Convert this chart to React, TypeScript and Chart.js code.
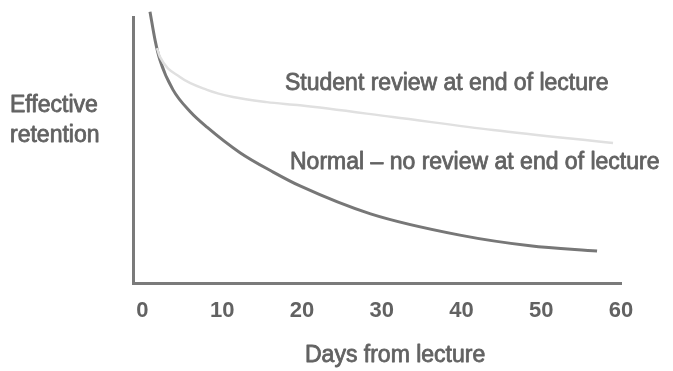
import { useEffect, useRef } from "react";
import { Chart, registerables } from "chart.js";

Chart.register(...registerables);

const xTicks = [0, 10, 20, 30, 40, 50, 60];

const normalDays = [0.95, 1.58, 2.2, 3.84, 5.97, 8.1, 12.24, 16.4, 19.76, 28.6, 39.8, 48.6, 57.0];
const normalValues = [102, 91.4, 83.8, 72.6, 64.5, 58.6, 49.0, 41.7, 36.5, 26.0, 18.0, 14.0, 12.0];

const reviewDays = [1.83, 2.2, 4.7, 8.1, 11.36, 15.6, 19.76, 31.4, 43.96, 59.0];
const reviewValues = [88.3, 85.0, 77.4, 72.6, 69.9, 68.0, 66.8, 62.4, 57.5, 52.6];

const yLabelLines = ["Effective", "retention"];
const xTitle = "Days from lecture";
const reviewLabel = "Student review at end of lecture";
const normalLabel = "Normal \u2013 no review at end of lecture";

const FONT = "'Liberation Sans', Arial, Helvetica, sans-serif";
const TEXT_COLOR = "#626262";

const textPlugin = {
  id: "textLabels",
  afterDraw(chart: any) {
    const ctx = chart.ctx;
    ctx.save();
    ctx.fillStyle = TEXT_COLOR;
    ctx.strokeStyle = TEXT_COLOR;
    ctx.lineWidth = 0.8;
    ctx.lineJoin = "round";
    ctx.font = `23px ${FONT}`;
    ctx.textAlign = "left";
    ctx.textBaseline = "alphabetic";
    const put = (t: string, x: number, y: number) => {
      ctx.fillText(t, x, y);
      ctx.strokeText(t, x, y);
    };
    put(yLabelLines[0], 10, 112);
    put(yLabelLines[1], 10, 142);
    put(reviewLabel, 285, 90);
    put(normalLabel, 290, 169);
    put(xTitle, 305, 362);
    ctx.restore();
  },
};

export default function App() {
  const ref = useRef<HTMLCanvasElement | null>(null);

  useEffect(() => {
    if (!ref.current) return;
    const chart = new Chart(ref.current, {
      type: "line",
      data: {
        datasets: [
          {
            label: "Student review",
            data: reviewDays.map((d, i) => ({ x: d, y: reviewValues[i] })),
            borderColor: "#e0e0e0",
            borderWidth: 2.5,
            pointRadius: 0,
            cubicInterpolationMode: "monotone",
            clip: false as any,
          },
          {
            label: "Normal",
            data: normalDays.map((d, i) => ({ x: d, y: normalValues[i] })),
            borderColor: "#777777",
            borderWidth: 3,
            pointRadius: 0,
            cubicInterpolationMode: "monotone",
            clip: false as any,
          },
        ],
      },
      options: {
        animation: false,
        responsive: false,
        layout: { padding: { top: 17, right: 52, left: 0, bottom: 0 } },
        plugins: {
          legend: { display: false },
          tooltip: { enabled: false },
        },
        scales: {
          x: {
            type: "linear",
            min: -1.18,
            max: 60,
            grid: { display: false, drawTicks: false },
            border: { display: true, color: "#7a7a7a", width: 3 },
            afterBuildTicks: (s: any) => {
              s.ticks = xTicks.map((v) => ({ value: v }));
            },
            afterFit: (s: any) => {
              s.height = 88;
            },
            ticks: {
              color: TEXT_COLOR,
              font: { family: FONT, size: 22, weight: "bold" },
              padding: 15,
              maxRotation: 0,
              autoSkip: false,
            },
          },
          y: {
            type: "linear",
            min: 0,
            max: 100,
            grid: { display: false, drawTicks: false },
            border: { display: true, color: "#7a7a7a", width: 3 },
            ticks: { display: false },
            afterFit: (s: any) => {
              s.width = 133;
            },
          },
        },
      },
      plugins: [textPlugin],
    });
    return () => chart.destroy();
  }, []);

  return (
    <div style={{ position: "absolute", left: 0, top: 0, width: 673, height: 371, background: "#fff" }}>
      <canvas ref={ref} width={673} height={371} style={{ display: "block" }} />
    </div>
  );
}
